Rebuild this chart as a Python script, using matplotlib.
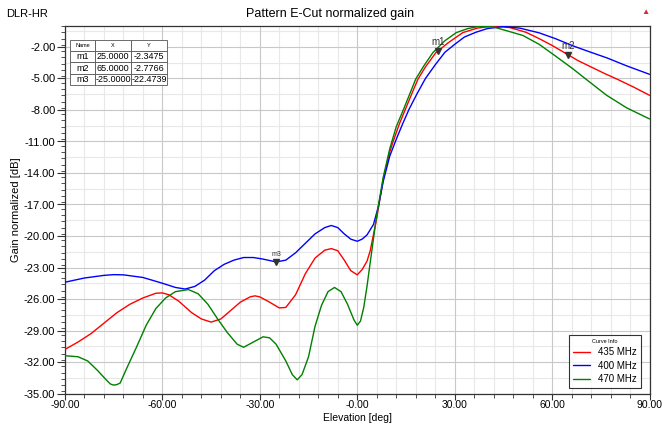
import matplotlib
matplotlib.use("Agg")
import matplotlib.pyplot as plt
from matplotlib.ticker import MultipleLocator, FixedLocator
import numpy as np

plt.rcParams['font.family'] = ['Liberation Sans', 'DejaVu Sans']

# ---- data ----
x_400 = [-90, -84, -78, -75, -72, -66, -60, -56, -53, -50, -47, -44, -41, -38, -35, -32, -29, -25, -22, -19,
         -16, -13, -10, -8, -6, -4, -2, 0, 1.5, 3, 5, 6.5, 8, 10, 12, 14, 16, 18.5, 21, 24, 27, 30, 33,
         36.5, 40, 45, 50, 56, 61, 66.5, 71, 77, 83, 90]
y_400 = [-24.4, -24.0, -23.75, -23.68, -23.7, -23.95, -24.5, -24.9, -25.05, -24.8, -24.2, -23.3, -22.7, -22.3,
         -22.05, -22.05, -22.2, -22.47, -22.3, -21.6, -20.7, -19.8, -19.2, -19.0, -19.2, -19.8, -20.3,
         -20.5, -20.3, -19.9, -18.9, -17.2, -14.8, -12.4, -10.8, -9.3, -7.9, -6.4, -5.0, -3.7, -2.5,
         -1.75, -1.05, -0.6, -0.25, -0.05, -0.2, -0.65, -1.2, -1.9, -2.4, -3.05, -3.8, -4.6]

x_435 = [-90, -86, -82, -78, -74, -70, -66, -62, -60, -58, -55, -51, -48, -45, -42, -39, -36, -33, -31.5, -30, -27,
         -24, -22, -19, -16, -13, -10, -8, -6, -4, -2, 0, 1.5, 3, 4, 6, 8, 10, 11, 13, 15, 17, 18.7, 21,
         24.3, 25, 28, 32.5, 37, 42, 47, 52, 56, 60, 64.7, 68, 72, 76, 80, 85, 90]
y_435 = [-30.8, -30.1, -29.3, -28.3, -27.3, -26.5, -25.9, -25.45, -25.42, -25.6, -26.2, -27.3, -27.9, -28.2,
         -27.9, -27.1, -26.3, -25.8, -25.7, -25.8, -26.3, -26.85, -26.8, -25.6, -23.6, -22.1, -21.35, -21.2,
         -21.4, -22.3, -23.3, -23.7, -23.2, -22.4, -21.4, -18.3, -14.6, -12.0, -11.05, -9.3, -7.8, -6.3,
         -5.06, -3.9, -2.5, -2.35, -1.6, -0.63, -0.2, 0.0, -0.15, -0.6, -1.2, -1.85, -2.7, -3.3, -3.9,
         -4.5, -5.06, -5.8, -6.6]

x_470 = [-90, -86, -83, -80, -77, -76, -75, -74, -73, -71, -68, -65, -62, -59, -56, -52, -49, -46, -43, -40, -37,
         -35, -32, -29, -27, -25, -22, -20, -18.5, -17, -15, -13, -11, -9, -7, -5, -3, -1, 0, 1, 2, 3, 4,
         6, 8, 10, 12, 14.3, 16, 18, 20.5, 23.3, 27, 30.5, 34, 38, 42, 46, 51, 56, 61, 66.5, 71, 76.8,
         83, 90]
y_470 = [-31.4, -31.5, -31.9, -32.8, -33.8, -34.1, -34.2, -34.15, -34.0, -32.6, -30.6, -28.5, -26.9, -25.9, -25.3,
         -25.1, -25.5, -26.5, -27.9, -29.2, -30.3, -30.6, -30.1, -29.6, -29.7, -30.3, -31.9, -33.2,
         -33.7, -33.2, -31.5, -28.6, -26.6, -25.3, -24.9, -25.3, -26.5, -28.0, -28.5, -28.1, -26.8,
         -24.8, -22.5, -18.0, -14.4, -11.7, -9.6, -7.9, -6.6, -5.06, -3.8, -2.53, -1.4, -0.63, -0.25,
         0.0, -0.1, -0.45, -0.9, -1.74, -2.85, -4.1, -5.2, -6.6, -7.8, -8.85]

series_labels = ["435 MHz", "400 MHz", "470 MHz"]

marker_names = ["m1", "m2", "m3"]
marker_x = [25.0, 65.0, -25.0]
marker_y = [-2.3475, -2.7766, -22.4739]

x_ticks = [-90, -60, -30, 0, 30, 60, 90]
y_ticks = [-35, -32, -29, -26, -23, -20, -17, -14, -11, -8, -5, -2]

# ---- figure ----
W, H = 662, 423
BOT = 393.5
fig = plt.figure(figsize=(W / 100, H / 100), dpi=100)
ax = fig.add_axes([65 / W, 1 - BOT / H, (649.5 - 65) / W, (BOT - 26) / H])
AH = BOT - 26

common = dict(lw=1.0, zorder=3, solid_joinstyle="round", solid_capstyle="round")
ax.plot(x_435, y_435, color="#ff0000", label=series_labels[0], **common)
ax.plot(x_400, y_400, color="#0000ff", label=series_labels[1], **common)
ax.plot(x_470, y_470, color="#008000", label=series_labels[2], **common)

ax.set_xlim(-90, 90)
ax.set_ylim(-35, 0)

ax.xaxis.set_major_locator(FixedLocator(x_ticks))
ax.xaxis.set_minor_locator(MultipleLocator(6))
ax.yaxis.set_major_locator(FixedLocator(y_ticks))
ax.yaxis.set_minor_locator(MultipleLocator(0.6))

ax.set_xticklabels(["%.2f" % v if v != 0 else "-0.00" for v in x_ticks], fontsize=7.5)
ax.set_yticklabels(["%.2f" % v for v in y_ticks], fontsize=8)

ax.tick_params(axis="y", which="major", direction="out", length=6, width=0.8, color="#333333", pad=1)
ax.tick_params(axis="x", which="major", direction="out", length=4.5, width=0.8, color="#333333", pad=0.5)
ax.tick_params(axis="both", which="minor", direction="out", length=3, width=0.6, color="#333333")

# grid: major and light minor
for v in x_ticks:
    ax.axvline(v, color="#c8c8c8", lw=0.8, zorder=1)
for v in np.arange(-90, 91, 6):
    if v % 30 != 0:
        ax.axvline(v, color="#e8e8e8", lw=0.8, zorder=0)
for v in np.arange(-35, 0.01, 1.5):
    major = abs(((v + 35) / 3) - round((v + 35) / 3)) < 1e-6
    ax.axhline(v, color="#c8c8c8" if major else "#e8e8e8", lw=0.8, zorder=1 if major else 0)

for s in ax.spines.values():
    s.set_color("#333333")
    s.set_linewidth(0.9)

ax.set_xlabel("Elevation [deg]", fontsize=7.5, va="bottom")
ax.xaxis.set_label_coords(0.5, -(422.8 - BOT) / AH)
ax.set_ylabel("Gain normalized [dB]", fontsize=8, labelpad=2)

fig.text(330 / W, 1 - 14 / H, "Pattern E-Cut normalized gain", ha="center", va="center", fontsize=9)
fig.text(6 / W, 1 - 14 / H, "DLR-HR", ha="left", va="center", fontsize=8)
fig.text(645 / W, 1 - 12 / H, "\u25b2", ha="center", va="center", fontsize=6, color="#d03030")

# markers
for name, mx, my in zip(marker_names, marker_x, marker_y):
    ax.plot([mx], [my], marker="v", color="#333333", ms=4, zorder=5)
    ax.text(mx, my + 0.35, name, fontsize=7 if name != "m3" else 5, ha="center", va="bottom",
            color="#333333", zorder=5)

# marker table
cell_text = [[n, "%.4f" % xv, "%.4f" % yv] for n, xv, yv in zip(marker_names, marker_x, marker_y)]
tbl = ax.table(cellText=cell_text, colLabels=["Name", "X", "Y"],
               bbox=[(70 - 65) / 585, (BOT - 85) / AH, (167 - 70) / 585, (85 - 40) / AH],
               cellLoc="center", zorder=6)
tbl.auto_set_font_size(False)
widths = [0.26, 0.37, 0.37]
for (r, c), cell in tbl.get_celld().items():
    cell.set_edgecolor("#555555")
    cell.set_linewidth(0.6)
    cell.set_facecolor("white")
    cell.set_width(widths[c] * (167 - 70) / 585)
    cell.PAD = 0.02
    if r == 0:
        cell.get_text().set_fontsize(4)
    else:
        cell.get_text().set_fontsize(6.5)
    cell.set_height(0.25 * (85 - 40) / AH)

# legend
leg = ax.legend(loc="lower right", bbox_to_anchor=(0.985, 0.015), fontsize=7, title="Curve Info",
                title_fontsize=4, frameon=True, fancybox=False, handlelength=1.8, handletextpad=0.8,
                borderpad=0.4, labelspacing=0.35, borderaxespad=0)
leg.get_frame().set_edgecolor("#000000")
leg.get_frame().set_linewidth(0.8)
leg.set_zorder(7)

fig.savefig("out.png", dpi=100)
